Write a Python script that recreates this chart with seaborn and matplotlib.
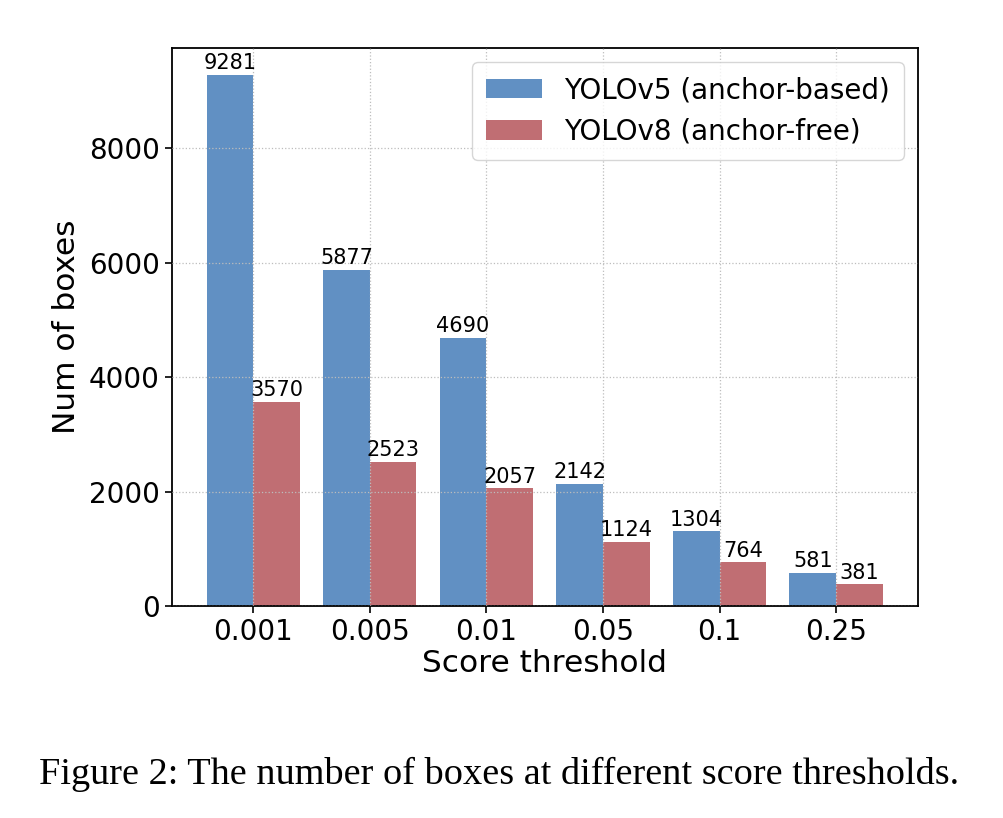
import numpy as np
import pandas as pd
import seaborn as sns
import matplotlib.pyplot as plt

thresholds = ["0.001", "0.005", "0.01", "0.05", "0.1", "0.25"]
yolov5 = [9281, 5877, 4690, 2142, 1304, 581]
yolov8 = [3570, 2523, 2057, 1124, 764, 381]
series = ["YOLOv5 (anchor-based)", "YOLOv8 (anchor-free)"]
colors = ["#6190c3", "#c06e73"]

df = pd.DataFrame({
    "threshold": thresholds * 2,
    "boxes": yolov5 + yolov8,
    "model": [series[0]] * len(thresholds) + [series[1]] * len(thresholds),
})

sns.set_theme(style="ticks", rc={
    "text.color": "black",
    "axes.labelcolor": "black",
    "xtick.color": "black",
    "ytick.color": "black",
})
plt.rcParams["font.family"] = "sans-serif"
plt.rcParams["font.sans-serif"] = ["DejaVu Sans"]

fig = plt.figure(figsize=(10.04, 8.18), dpi=100)
ax = fig.add_axes([0.171, 0.259, 0.743, 0.682])

sns.barplot(data=df, x="threshold", y="boxes", hue="model", order=thresholds,
            hue_order=series, palette=colors, width=0.8, saturation=1,
            linewidth=0, ax=ax, errorbar=None)

for cont in ax.containers:
    ax.bar_label(cont, fontsize=15, padding=1)

ax.set_xlim(-0.7, 5.7)
ax.set_ylim(0, 9745)
ax.set_yticks([0, 2000, 4000, 6000, 8000])
ax.tick_params(labelsize=20, length=5, width=1.2, color="black")
ax.set_xlabel("Score threshold", fontsize=22.5, labelpad=2)
ax.set_ylabel("Num of boxes", fontsize=22.5, labelpad=6)
for s in ax.spines.values():
    s.set_color("black")
    s.set_linewidth(1.3)

ax.set_axisbelow(False)
ax.grid(True, linestyle=":", color="#bdbdbd", linewidth=0.9)

leg = ax.legend(loc="upper right", fontsize=20, title=None, frameon=True,
                fancybox=True, edgecolor="#cccccc", borderpad=0.5)

fig.text(0.497, 0.053, "Figure 2: The number of boxes at different score thresholds.",
         ha="center", va="center", fontsize=27.5, family=["Liberation Serif"])

fig.savefig("out.png", dpi=100, facecolor="white")
